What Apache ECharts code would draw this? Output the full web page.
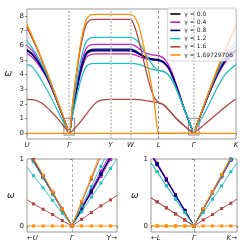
<!DOCTYPE html>
<html><head><meta charset="utf-8">
<script src="https://cdn.jsdelivr.net/npm/echarts@6/dist/echarts.min.js"></script>
<style>html,body{margin:0;padding:0;background:#fff}#c{width:249px;height:249px}</style>
</head><body><div id="c"></div>
<script>
// ---- path (x) positions along the k-path ----
const pathX = [0,5,10,15,20,25,30,35,39,42, 45,49,54,59,64,69,75,83, 93,103, 107,111,115,119,123,127,131, 136,141,146,151,156,161,163,166, 169,173,178,184,190,196,202,208];
const pathTicks = [0, 42, 83, 103, 131, 166, 208];
const pathLabels = ['U', 'Γ', 'Y', 'W', 'L', 'Γ', 'K'];
const omegaTicks = [0,1,2,3,4,5,6,7,8];
const gammaNames = ['γ = 0.0', 'γ = 0.4', 'γ = 0.8', 'γ = 1.2', 'γ = 1.6', 'γ = 1.69729706'];
const gammaColors = ['#000000', '#c81ec8', '#00007f', '#1ec0c0', '#b04343', '#ff8c00'];

// ---- main dispersion branches (omega) ----
const g00 = [5.66,5.4,4.97,4.43,3.81,3.04,2.17,1.28,0.55,0, 1.26,2.84,4.44,5.43,5.66,5.68,5.68,5.68, 5.68,5.68, 5.6,5.45,5.28,5.15,5.07,5.03,5.0, 4.85,4.45,3.71,2.76,1.75,0.85,0.5,0, 0.55,1.28,2.17,3.18,4.1,4.82,5.3,5.63];
const g04a = [5.98,5.65,5.15,4.55,3.88,3.07,2.2,1.3,0.56,0, 1.35,3.04,4.75,5.8,6.05,6.07,6.07,6.07, 6.07,6.07, 5.98,5.8,5.6,5.45,5.37,5.33,5.3, 5.12,4.65,3.85,2.85,1.8,0.87,0.51,0, 0.56,1.3,2.2,3.22,4.18,4.95,5.55,5.98];
const g04b = [5.45,5.2,4.8,4.3,3.72,2.98,2.14,1.27,0.55,0, 1.2,2.7,4.23,5.17,5.39,5.41,5.41,5.41, 5.41,5.41, 5.35,5.25,5.15,5.07,5.02,4.98,4.95, 4.8,4.4,3.65,2.72,1.73,0.84,0.49,0, 0.55,1.27,2.14,3.13,4.0,4.7,5.15,5.45];
const g08a = [5.72,5.45,5.0,4.45,3.82,3.05,2.18,1.29,0.56,0, 1.28,2.88,4.5,5.5,5.73,5.75,5.75,5.75, 5.75,5.75, 5.66,5.5,5.32,5.18,5.1,5.06,5.03, 4.88,4.47,3.72,2.77,1.76,0.86,0.5,0, 0.56,1.29,2.18,3.2,4.12,4.85,5.35,5.72];
const g08b = [5.62,5.38,4.95,4.42,3.8,3.03,2.17,1.28,0.55,0, 1.25,2.81,4.39,5.37,5.6,5.62,5.62,5.62, 5.62,5.62, 5.55,5.42,5.25,5.12,5.05,5.0,4.98, 4.83,4.43,3.7,2.75,1.75,0.85,0.49,0, 0.55,1.28,2.17,3.18,4.1,4.8,5.28,5.6];
const g12a = [6.27,5.85,5.3,4.65,3.95,3.1,2.2,1.3,0.56,0, 1.45,3.28,5.12,6.26,6.53,6.55,6.55,6.55, 6.55,6.55, 6.45,6.2,5.8,5.3,4.85,4.5,4.3, 4.22,3.98,3.45,2.62,1.76,0.88,0.53,0, 0.56,1.3,2.2,3.25,4.25,5.05,5.75,6.27];
const g12b = [4.7,4.55,4.1,3.55,2.95,2.3,1.6,0.92,0.4,0, 1.06,2.38,3.73,4.56,4.75,4.77,4.77,4.77, 4.77,4.77, 4.75,4.7,4.62,4.5,4.4,4.32,4.28, 4.2,3.96,3.43,2.6,1.74,0.87,0.52,0, 0.4,0.92,1.55,2.37,3.2,3.9,4.35,4.7];
const g16a = [7.23,6.5,5.75,4.92,4.1,3.2,2.27,1.33,0.57,0, 1.73,3.89,6.08,7.44,7.76,7.78,7.78,7.78, 7.78,7.78, 7.3,6.4,5.3,4.1,3.1,2.4,2.1, 1.95,1.6,1.2,0.85,0.55,0.27,0.16,0, 0.57,1.33,2.27,3.35,4.42,5.4,6.35,7.23];
const g16b = [2.32,2.3,2.22,2.05,1.75,1.42,1.05,0.62,0.27,0, 0.15,0.45,0.85,1.3,1.75,2.1,2.28,2.32, 2.32,2.32, 2.32,2.3,2.27,2.22,2.17,2.12,2.08, 1.94,1.59,1.19,0.84,0.54,0.26,0.15,0, 0.17,0.4,0.68,1.02,1.37,1.72,2.05,2.32];
const g17a = [7.45,6.65,5.85,5.0,4.15,3.25,2.3,1.35,0.58,0, 1.8,4.06,6.35,7.76,8.1,8.12,8.12,8.12, 8.12,8.12, 7.95,7.4,6.3,5.0,3.6,1.9,0, 0,0,0,0,0,0,0,0, 0.58,1.35,2.3,3.4,4.5,5.5,6.5,7.45];
const g17b = [0,0,0,0,0,0,0,0,0,0, 0,0,0,0,0,0,0,0, 0,0, 0,0,0,0,0,0,0, 0,0,0,0,0,0,0,0, 0,0,0,0,0,0,0,0];

// ---- zoomed insets near Gamma ----
const insetK = [-1,-0.857,-0.643,-0.429,-0.214,0,0.214,0.429,0.643,0.857,1];
const insetTicks = [-1, 0, 1];
const insetALabels = ['←U', 'Γ', 'Y→'];
const insetBLabels = ['←L', 'Γ', 'K→'];
const insetOmegaTicks = [0, 1];
// inset A: U | Gamma | Y
const a00  = [1.14,0.98,0.73,0.49,0.24,0,0.26,0.51,0.77,1.03,1.20];
const a04a = [1.16,0.99,0.75,0.50,0.25,0,0.27,0.54,0.82,1.09,1.27];
const a04b = [1.12,0.96,0.72,0.48,0.24,0,0.25,0.49,0.74,0.99,1.15];
const a08a = [1.15,0.99,0.74,0.49,0.25,0,0.26,0.52,0.78,1.05,1.22];
const a08b = [1.13,0.97,0.73,0.48,0.24,0,0.25,0.51,0.77,1.02,1.19];
const a12a = [1.12,0.96,0.72,0.48,0.24,0,0.30,0.59,0.89,1.18,1.38];
const a12b = [0.88,0.75,0.57,0.38,0.19,0,0.21,0.43,0.64,0.86,1.00];
const a16a = [1.16,0.99,0.75,0.50,0.25,0,0.35,0.70,1.05,1.41,1.64];
const a16b = [0.39,0.33,0.25,0.17,0.08,0,0.10,0.20,0.30,0.39,0.46];
const a17a = [1.18,1.01,0.76,0.51,0.25,0,0.37,0.73,1.10,1.47,1.71];
const a17b = [0,0,0,0,0,0,0,0,0,0,0];
// inset B: L | Gamma | K
const b00  = [1.07,0.92,0.69,0.46,0.23,0,0.25,0.50,0.75,0.99,1.16];
const b04a = [1.10,0.94,0.71,0.47,0.24,0,0.25,0.51,0.76,1.01,1.18];
const b04b = [1.06,0.91,0.68,0.45,0.23,0,0.24,0.49,0.73,0.98,1.14];
const b08a = [1.08,0.93,0.69,0.46,0.23,0,0.25,0.50,0.75,1.00,1.17];
const b08b = [1.07,0.92,0.69,0.46,0.23,0,0.25,0.50,0.74,0.99,1.15];
const b12a = [0.94,0.81,0.60,0.40,0.20,0,0.25,0.49,0.74,0.99,1.15];
const b12b = [0.94,0.81,0.60,0.40,0.20,0,0.20,0.40,0.60,0.81,0.94];
const b16a = [0.42,0.36,0.27,0.18,0.09,0,0.25,0.51,0.76,1.01,1.18];
const b16b = [0.42,0.36,0.27,0.18,0.09,0,0.09,0.17,0.26,0.34,0.40];
const b17a = [0,0,0,0,0,0,0.26,0.51,0.77,1.03,1.20];
const b17b = [0,0,0,0,0,0,0,0,0,0,0];

// inset window drawn on the main plot
const insetHalfWidth = 5.3;
const insetOmegaRange = [-0.12, 1.02];

const FONT = 'DejaVu Sans';
const branches = [
  [0, g00, a00, b00],
  [1, g04a, a04a, b04a], [1, g04b, a04b, b04b],
  [2, g08a, a08a, b08a], [2, g08b, a08b, b08b],
  [3, g12a, a12a, b12a], [3, g12b, a12b, b12b],
  [4, g16a, a16a, b16a], [4, g16b, a16b, b16b],
  [5, g17a, a17a, b17a], [5, g17b, a17b, b17b]
];

const series = [];
const gammaPos = [pathTicks[1], pathTicks[5]];
series.push({
  type: 'line', xAxisIndex: 0, yAxisIndex: 0, data: pathX.map((x, i) => [x, g00[i]]),
  symbol: 'none', lineStyle: {width: 0, opacity: 0}, silent: true, z: 1,
  markLine: {
    symbol: 'none', silent: true, label: {show: false}, animation: false,
    data: pathTicks.slice(1, -1).map((t, i) => ({
      xAxis: t,
      lineStyle: i === 3 ? {color: '#7a7a7a', width: 0.8, type: [3, 2]} : {color: '#c4c4c4', width: 1.6, type: [2, 1.5]}
    }))
  },
  markArea: {
    silent: true, label: {show: false},
    itemStyle: {color: 'rgba(0,0,0,0)', borderColor: '#8a8a8a', borderWidth: 1},
    data: gammaPos.map(g => [{coord: [g - insetHalfWidth, insetOmegaRange[0]]}, {coord: [g + insetHalfWidth, insetOmegaRange[1]]}])
  }
});
[1, 2].forEach(ax => series.push({
  type: 'line', xAxisIndex: ax, yAxisIndex: ax, data: insetK.map((k, i) => [k, a17b[i]]),
  symbol: 'none', lineStyle: {width: 0, opacity: 0}, silent: true, z: 1,
  markLine: {symbol: 'none', silent: true, label: {show: false}, animation: false,
    data: [{xAxis: insetTicks[1], lineStyle: {color: '#999999', width: 0.8, type: [3, 2]}}]}
}));

branches.forEach(([gi, main, ia, ib], n) => {
  const color = gammaColors[gi], name = gammaNames[gi];
  series.push({
    type: 'line', name, xAxisIndex: 0, yAxisIndex: 0,
    data: pathX.map((x, i) => [x, main[i]]),
    smooth: 0.25, symbol: 'none', lineStyle: {color, width: 1.25}, itemStyle: {color},
    z: 2 + n * 0.01, silent: true
  });
  [[ia, 1], [ib, 2]].forEach(([arr, ax]) => series.push({
    type: 'line', name, xAxisIndex: ax, yAxisIndex: ax,
    data: insetK.map((k, i) => ({value: [k, arr[i]], symbol: (i === 0 || i === insetK.length - 1) ? 'none' : 'rect'})),
    symbolSize: 3, showAllSymbol: true, lineStyle: {color, width: 0.9}, itemStyle: {color},
    z: 2 + n * 0.01, silent: true
  }));
});

const axisText = {color: '#222', fontFamily: FONT, fontSize: 7};
function xAx(grid, min, max, ticks, labels) {
  return {
    type: 'value', gridIndex: grid, min, max,
    axisLine: {show: false}, splitLine: {show: false},
    axisTick: {show: true, length: 2, customValues: ticks, lineStyle: {color: '#444', width: 0.6}},
    axisLabel: Object.assign({customValues: ticks, margin: 3, fontStyle: 'italic',
      alignMinLabel: grid ? 'left' : 'center', alignMaxLabel: grid ? 'right' : 'center',
      formatter: v => labels[ticks.indexOf(v)]}, axisText)
  };
}
function yAx(grid, min, max, ticks, gap) {
  return {
    type: 'value', gridIndex: grid, min, max,
    axisLine: {show: false}, splitLine: {show: false},
    axisTick: {show: true, length: 2, customValues: ticks, lineStyle: {color: '#444', width: 0.6}},
    axisLabel: Object.assign({customValues: ticks, margin: 3}, axisText),
    name: 'ω', nameLocation: 'middle', nameRotate: 0, nameGap: gap,
    nameTextStyle: {fontFamily: FONT, fontSize: 9, fontStyle: 'italic', color: '#222'}
  };
}

const option = {
  animation: false,
  backgroundColor: '#fff',
  textStyle: {fontFamily: FONT},
  grid: [
    {left: 27, top: 9, width: 209, height: 130, show: true, borderColor: '#9a9a9a', borderWidth: 1},
    {left: 27, top: 159, width: 90, height: 73, show: true, borderColor: '#9a9a9a', borderWidth: 1},
    {left: 151, top: 159, width: 86, height: 73, show: true, borderColor: '#9a9a9a', borderWidth: 1}
  ],
  xAxis: [
    xAx(0, pathTicks[0], pathTicks[pathTicks.length - 1], pathTicks, pathLabels),
    xAx(1, insetTicks[0], insetTicks[2], insetTicks, insetALabels),
    xAx(2, insetTicks[0], insetTicks[2], insetTicks, insetBLabels)
  ],
  yAxis: [
    yAx(0, -0.39, 8.48, omegaTicks, 15),
    yAx(1, -0.09, 1, insetOmegaTicks, 10),
    yAx(2, -0.09, 1, insetOmegaTicks, 10)
  ],
  legend: {
    data: gammaNames, orient: 'vertical', right: 13, top: 8,
    backgroundColor: 'rgba(255,255,255,0.8)', borderColor: '#cccccc', borderWidth: 0.8, borderRadius: 2,
    padding: [3, 3, 3, 3], itemWidth: 10, itemHeight: 1.6, itemGap: 2.2, icon: 'rect',
    textStyle: {fontFamily: FONT, fontSize: 6, color: '#222', padding: [0, 0, 0, -1]},
    selectedMode: false
  },
  series
};

const chart = echarts.init(document.getElementById('c'), null, {renderer: 'canvas', width: 249, height: 249});
chart.setOption(option);
</script>
</body></html>
